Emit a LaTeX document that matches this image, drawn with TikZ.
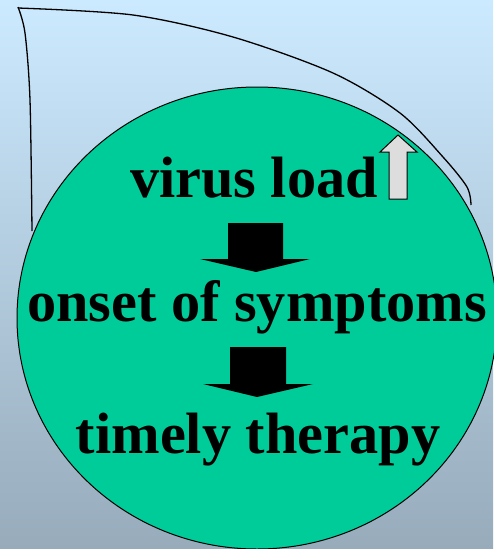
\documentclass[tikz,border=0pt]{standalone}
\usepackage{fontspec}
\setmainfont{Liberation Serif}
\usepackage{xcolor}
\definecolor{skytop}{HTML}{CCEAFF}
\definecolor{skybottom}{HTML}{97ABBB}
\definecolor{cellgreen}{HTML}{00CC99}
\definecolor{arrowgray}{HTML}{DDDDDD}
\tikzset{
  word/.style={anchor=base, inner sep=0pt, font=\fontsize{58.3}{60}\selectfont\bfseries},
  blockdown/.style={fill=black},
}
\begin{document}
\begin{tikzpicture}[x=1pt, y=-1pt]
  \useasboundingbox (0,0) rectangle (493,549);
  \shade[top color=skytop, bottom color=skybottom] (0,0) rectangle (493,549);
  % outline behind the cell
  \draw[line width=1.3pt] plot[smooth] coordinates {(18,8) (133,15) (233,37) (333,73) (400,113) (443,157) (467,187) (471,205)};
  \draw[line width=1.3pt] plot[smooth] coordinates {(18,7) (25,33) (30,100) (32,231)};
  % the cell
  \draw[fill=cellgreen, line width=1pt] (257,318) ellipse [x radius=240, y radius=231];
  \node[word] (vload) at (254,197) {virus load};
  \node[word] (onset) at (257,321) {onset of symptoms};
  \node[word] (therapy) at (258,453) {timely therapy};
  % arrows
  \draw[fill=arrowgray, line width=1pt] (389,199) -- (389,152) -- (380,152) -- (398,135)
    -- (417,152) -- (407,152) -- (407,199) -- cycle;
  \fill[blockdown] (228,223) -- (283,223) -- (283,259) -- (310,259) -- (256,272)
    -- (200,259) -- (228,259) -- cycle;
  \fill[blockdown] (230,347) -- (286,347) -- (286,384) -- (313,384) -- (257,397)
    -- (203,384) -- (230,384) -- cycle;
\end{tikzpicture}
\end{document}
